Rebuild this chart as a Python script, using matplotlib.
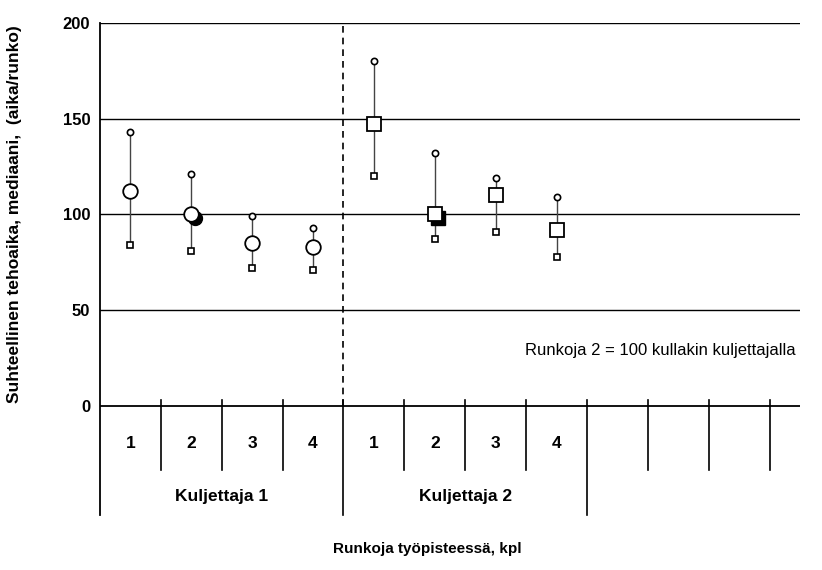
import matplotlib.pyplot as plt
import matplotlib.transforms as mtransforms

plt.rcParams["font.family"] = ["Liberation Sans", "DejaVu Sans"]

# ----------------------------------------------------------
# Data
# ----------------------------------------------------------
kuljettajat = ["Kuljettaja 1", "Kuljettaja 2"]
runkoja = ["1", "2", "3", "4"]

k1_median = [112, 100, 85, 83]
k1_upper = [143, 121, 99, 93]
k1_lower = [84, 81, 72, 71]

k2_median = [147, 100, 110, 92]
k2_upper = [180, 132, 119, 109]
k2_lower = [120, 87, 91, 78]

# filled "shadow" marker at Runkoja 2
shadow_idx = 1
shadow_val = [98, 98]

n_slots = 11.5          # slots on the x axis (last ones empty)
y_ticks = [0, 50, 100, 150, 200]

# ----------------------------------------------------------
# Figure
# ----------------------------------------------------------
fig = plt.figure(figsize=(8.22, 5.70), dpi=100)
W, H = 822, 570
left, right, top, bottom = 100, 800, 23, 515
ax = fig.add_axes([left / W, 1 - bottom / H, (right - left) / W, (bottom - top) / H])

y_min = -57
ax.set_xlim(0, n_slots)
ax.set_ylim(y_min, 200)

for s in ["top", "right", "bottom"]:
    ax.spines[s].set_visible(False)
ax.spines["left"].set_linewidth(1.3)

ax.set_yticks(y_ticks)
ax.set_yticklabels([str(t) for t in y_ticks], fontsize=12, fontweight="bold")
ax.tick_params(axis="y", length=0, pad=7)
ax.set_xticks([])

for t in y_ticks:
    ax.axhline(t, color="black", lw=1.3 if t == 0 else 1.0, zorder=1)


def draw_driver(offset, med, up, lo):
    xs = [offset + i + 0.5 for i in range(len(med))]
    for x, u, l in zip(xs, up, lo):
        ax.plot([x, x], [l, u], color="#444444", lw=1.0, zorder=2)
    ax.plot(xs, up, "o", ms=4.5, mfc="white", mec="black", mew=1.2, ls="none", zorder=4)
    ax.plot(xs, lo, "s", ms=4.5, mfc="white", mec="black", mew=1.2, ls="none", zorder=4)
    return xs


xs1 = draw_driver(0, k1_median, k1_upper, k1_lower)
xs2 = draw_driver(4, k2_median, k2_upper, k2_lower)

# filled shadow markers
ax.plot(xs1[shadow_idx] + 0.06, shadow_val[0], "o", ms=10, mfc="black", mec="black", zorder=4)
ax.plot(xs2[shadow_idx] + 0.06, shadow_val[1], "s", ms=10, mfc="black", mec="black", zorder=4)

# medians
ax.plot(xs1, k1_median, "o", ms=10.5, mfc="white", mec="black", mew=1.3, ls="none", zorder=5)
ax.plot(xs2, k2_median, "s", ms=10.5, mfc="white", mec="black", mew=1.3, ls="none", zorder=5)

# driver separator (dashed in plot area)
ax.plot([4, 4], [0, 200], color="black", lw=1.2, ls=(0, (4, 3)), zorder=1)

# ----------------------------------------------------------
# Category table below zero
# ----------------------------------------------------------
for k in range(1, 12):
    long_line = k in (4, 8)
    y_end = y_min if long_line else -33.5
    ax.plot([k, k], [3, y_end], color="black", lw=1.2, clip_on=False, zorder=3)

for g in range(len(kuljettajat)):
    for i, lab in enumerate(runkoja):
        ax.text(g * 4 + i + 0.5, -19.5, lab, ha="center", va="center",
                fontsize=12.5, fontweight="bold")
    ax.text(g * 4 + 2, -47.5, kuljettajat[g], ha="center", va="center",
            fontsize=12.5, fontweight="bold")

ax.text(6.98, 29, "Runkoja 2 = 100 kullakin kuljettajalla", ha="left", va="center",
        fontsize=12)

# axis labels
trans = mtransforms.blended_transform_factory(fig.transFigure, ax.transData)
ax.text(15 / W, 100, "Suhteellinen tehoaika, mediaani,  (aika/runko)", transform=trans,
        rotation=90, ha="center", va="center", fontsize=12.5, fontweight="bold")
fig.text(427 / W, 1 - 549 / H, "Runkoja työpisteessä, kpl", ha="center", va="center",
         fontsize=11, fontweight="bold")

fig.savefig("out.png", dpi=100)
